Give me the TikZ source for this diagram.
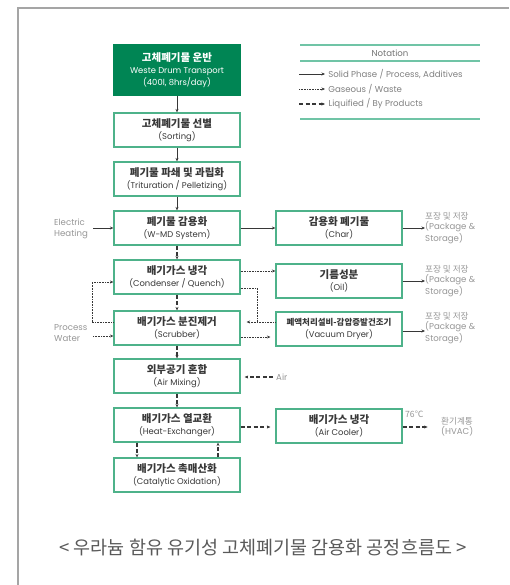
\documentclass[tikz,border=0pt]{standalone}
\usepackage{fontspec}
\setmainfont{Poppins}
\newfontfamily\krfont{Noto Sans CJK KR}
\usetikzlibrary{arrows.meta, positioning, calc}
\definecolor{darkgreen}{RGB}{0,133,84}
\definecolor{boxgreen}{RGB}{78,178,138}
\definecolor{notegreen}{RGB}{112,196,166}
\definecolor{labelgray}{RGB}{150,150,150}
\definecolor{linegray}{RGB}{55,55,55}
\definecolor{framegray}{RGB}{165,165,165}
\newcommand{\kt}[1]{{\krfont\bfseries\fontsize{10.5}{12.5}\selectfont #1}}
\newcommand{\et}[1]{{\fontsize{8.4}{10}\selectfont #1}}
\tikzset{
  block/.style={rectangle, draw=boxgreen, line width=1.2pt, fill=white, minimum width=126pt, minimum height=34pt, align=center, inner sep=1pt, text=black!78},
  startblock/.style={block, draw=darkgreen, fill=darkgreen, text=white, minimum height=50pt},
  solidarrow/.style={-{Stealth[length=3.5pt,width=3pt]}, line width=0.6pt, draw=linegray},
  gasline/.style={line width=0.7pt, draw=linegray, dash pattern=on 0.8pt off 0.8pt},
  gasarrow/.style={gasline, -{Stealth[length=3.5pt,width=3pt]}},
  liqarrow/.style={-{Stealth[length=3.5pt,width=3pt]}, line width=1.2pt, draw=linegray, dash pattern=on 4pt off 2.5pt},
  sidelabel/.style={font=\fontsize{8.6}{10.3}\selectfont, text=labelgray, align=left, inner sep=0pt},
  storelabel/.style={sidelabel, anchor=west},
}
\begin{document}
\begin{tikzpicture}[x=1pt, y=-1pt]
  \useasboundingbox (0,0) rectangle (509,585);
  % frame
  \draw[framegray, line width=1.5pt] (18,585) -- (18,8) -- (509,8);

  % main process column
  \node[startblock] (transport) at (177,70) {\kt{고체폐기물 운반}\\\et{Weste Drum Transport}\\\et{(400l, 8hrs/day)}};
  \node[block] (sorting) at (177,130) {\kt{고체폐기물 선별}\\\et{(Sorting)}};
  \node[block] (crushing) at (177,179) {\kt{폐기물 파쇄 및 과립화}\\\et{(Trituration / Pelletizing)}};
  \node[block] (wmd) at (177,228) {\kt{폐기물 감용화}\\\et{(W-MD System)}};
  \node[block] (condenser) at (177,277) {\kt{배기가스 냉각}\\\et{(Condenser / Quench)}};
  \node[block] (scrubber) at (177,328) {\kt{배기가스 분진제거}\\\et{(Scrubber)}};
  \node[block] (mixing) at (177,376) {\kt{외부공기 혼합}\\\et{(Air Mixing)}};
  \node[block] (exchanger) at (177,425) {\kt{배기가스 열교환}\\\et{(Heat-Exchanger)}};
  \node[block] (oxidation) at (177,475) {\kt{배기가스 촉매산화}\\\et{(Catalytic Oxidation)}};

  % by-product column
  \node[block] (char) at (339,228) {\kt{감용화 폐기물}\\\et{(Char)}};
  \node[block] (oil) at (339,281) {\kt{기름성분}\\\et{(Oil)}};
  \node[block] (dryer) at (339,329) {{\krfont\bfseries\fontsize{8.5}{10.5}\selectfont 폐액처리설비-감압증발건조기}\\\et{(Vacuum Dryer)}};
  \node[block] (cooler) at (339,426) {\kt{배기가스 냉각}\\\et{(Air Cooler)}};

  % side labels
  \node[sidelabel, anchor=west] (heating) at (54,229) {Electric\\Heating};
  \node[sidelabel, anchor=west] (water) at (54,333) {Process\\Water};
  \node[storelabel] (store1) at (425,228) {{\krfont 포장 및 저장}\\(Package \&\\Storage)};
  \node[storelabel] (store2) at (425,281) {{\krfont 포장 및 저장}\\(Package \&\\Storage)};
  \node[storelabel] (store3) at (425,328) {{\krfont 포장 및 저장}\\(Package \&\\Storage)};
  \node[sidelabel, anchor=west] (air) at (276,377) {Air};
  \node[sidelabel, anchor=west] (hvac) at (441,427) {{\krfont 환기계통}\\(HVAC)};
  \node[sidelabel, anchor=west] (temp) at (405,414) {{\krfont 76℃}};
  \coordinate (heatin) at (93,228);
  \coordinate (waterin) at (93,336);
  \coordinate (junction) at (257,322);

  % solid connectors
  \draw[solidarrow] (transport) -- (sorting);
  \draw[solidarrow] (sorting) -- (crushing);
  \draw[solidarrow] (crushing) -- (wmd);
  \draw[solidarrow] (heatin) -- (heatin -| wmd.west);
  \draw[solidarrow] (wmd) -- (char);
  \draw[solidarrow] (char.east) -- (store1.west);
  \draw[solidarrow] (oil.east) -- (store2.west);
  \draw[solidarrow] ([yshift=-2pt]dryer.east) -- ([yshift=-2pt]dryer.east -| store3.west);

  % liquid / by-product connectors
  \draw[liqarrow] (wmd) -- (condenser);
  \draw[liqarrow] (condenser) -- (scrubber);
  \draw[liqarrow] (scrubber) -- (mixing);
  \draw[liqarrow] (mixing) -- (exchanger);
  \draw[liqarrow] ([xshift=-40pt]exchanger.south) -- ([xshift=-40pt]oxidation.north);
  \draw[liqarrow] ([xshift=41pt]oxidation.north) -- ([xshift=41pt]exchanger.south);
  \draw[liqarrow, shorten >=7pt] ([xshift=-3pt]air.west) -- ([xshift=-3pt]air.west -| mixing.east);
  \draw[liqarrow, shorten >=5pt] ([yshift=-2pt]exchanger.east) -- ([yshift=-2pt]exchanger.east -| cooler.west);
  \draw[liqarrow] ([yshift=-1pt]cooler.east) -- ++(25,0);

  % gaseous connectors
  \draw[gasarrow] ([yshift=6pt]scrubber.west) -- ++(-21,0) |- ([yshift=-5pt]condenser.west);
  \draw[gasarrow] (waterin) -- (waterin -| scrubber.west);
  \draw[gasarrow] ([yshift=6pt]condenser.east) -- ([yshift=6pt]condenser.east -| oil.west);
  \draw[gasarrow, shorten >=6pt] ([yshift=-11pt]condenser.east) -| (junction) -- (junction -| scrubber.east);
  \draw[gasline] ([yshift=7pt]dryer.west) -- (junction);
  \draw[gasarrow, shorten >=5pt] ([yshift=-9pt]scrubber.east) -- ([yshift=-9pt]scrubber.east -| dryer.west);

  % notation
  \draw[notegreen, line width=1.3pt] (300,45) -- (480,45);
  \node[sidelabel, text=black!55, anchor=center] (notation) at (390,53) {Notation};
  \draw[notegreen, line width=1.3pt] (300,61) -- (480,61);
  \coordinate (keysolid) at (299,74);
  \coordinate (keygas) at (299,89);
  \coordinate (keyliq) at (299,104);
  \draw[solidarrow] (keysolid) -- ++(26,0) node[sidelabel, text=black!50, anchor=west, xshift=3pt] {Solid Phase / Process, Additives};
  \draw[gasarrow] (keygas) -- ++(26,0) node[sidelabel, text=black!50, anchor=west, xshift=3pt] {Gaseous / Waste};
  \draw[liqarrow] (keyliq) -- ++(26,0) node[sidelabel, text=black!50, anchor=west, xshift=3pt] {Liquified / By Products};
  \draw[notegreen, line width=1.3pt] (300,119) -- (480,119);

  % caption
  \node[text=black!65] (caption) at (263,548) {\krfont\fontsize{18.5}{21}\selectfont < 우라늄 함유 유기성 고체폐기물 감용화 공정흐름도 >};
\end{tikzpicture}
\end{document}
